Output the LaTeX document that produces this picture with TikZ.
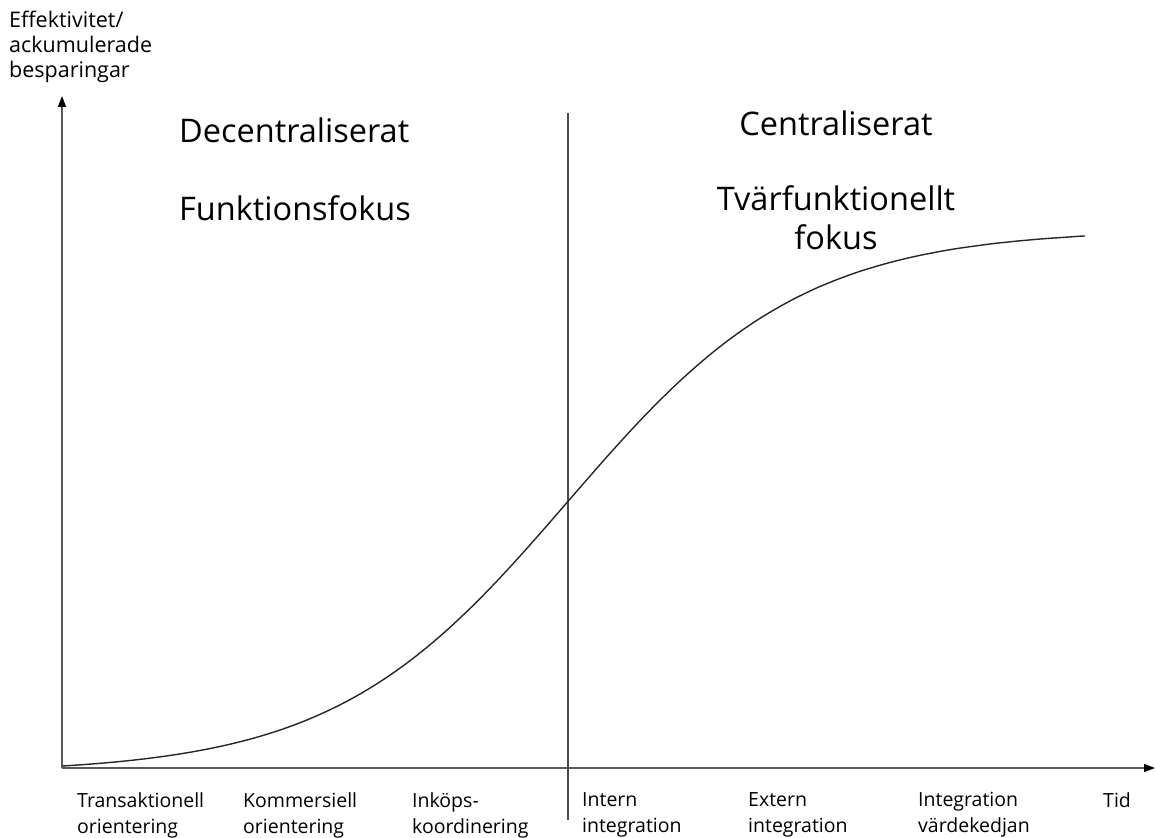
\documentclass[tikz,border=0pt]{standalone}
\usepackage{fontspec}
\setmainfont{Open Sans}
\usetikzlibrary{arrows.meta}
\begin{document}
\begin{tikzpicture}[x=1pt,y=-1pt,
  axis/.style={draw=black!65, line width=1.6pt, -{Triangle[length=11pt,width=8pt,color=black]}},
  divider/.style={draw=black!70, line width=1.3pt},
  curve/.style={draw=black!85, line width=1.4pt},
  small/.style={font=\fontsize{19.5}{26}\selectfont, align=left, anchor=north west, inner sep=0pt},
  big/.style={font=\fontsize{32.5}{39}\selectfont, align=center, inner sep=0pt},
  ylab/.style={font=\fontsize{21.5}{25}\selectfont, align=left, anchor=north west, inner sep=0pt}]
\useasboundingbox (0,0) rectangle (1155,837);
\coordinate (O) at (62,768);
\coordinate (Ytip) at (62,96);
\coordinate (Xtip) at (1155,768);
\coordinate (Dtop) at (568,113);
\coordinate (Dbot) at (568,820);
\draw[axis] (O) -- (Ytip);
\draw[axis] (O) -- (Xtip);
\draw[divider] (Dtop) -- (Dbot);
\draw[curve, domain=62:1085, samples=120, smooth, variable=\t]
  plot ({\t},{766-530*((1/(1+exp(-0.0085*(\t-568))))-0.01345)/0.9743});
\node[ylab] (ylabel) at (9,11) {Effektivitet/\\ackumulerade\\besparingar};
\node[big, anchor=west] (dec) at (179,130) {Decentraliserat};
\node[big, anchor=west] (fun) at (179,208) {Funktionsfokus};
\node[big] (cen) at (836,123) {Centraliserat};
\node[big, anchor=north] (tvf) at (836,185) {Tvärfunktionellt\\fokus};
\node[small] (l1) at (77,792) {Transaktionell\\orientering};
\node[small] (l2) at (243,792) {Kommersiell\\orientering};
\node[small] (l3) at (412,792) {Inköps-\\koordinering};
\node[small] (l4) at (582,792) {Intern\\integration};
\node[small] (l5) at (748,792) {Extern\\integration};
\node[small] (l6) at (918,792) {Integration\\värdekedjan};
\node[small] (l7) at (1103,792) {Tid};
\end{tikzpicture}
\end{document}
